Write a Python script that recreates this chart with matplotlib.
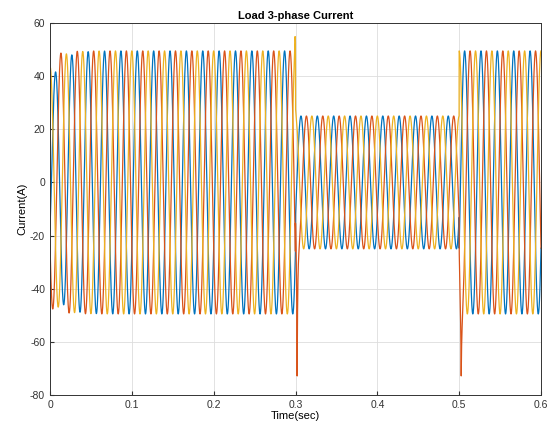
import numpy as np
import matplotlib
matplotlib.use("Agg")
from matplotlib import pyplot as plt

plt.rcParams['font.family'] = ['Liberation Sans', 'DejaVu Sans']
plt.rcParams['axes.unicode_minus'] = False

# Operating data
freq = 50.0                                  # Hz
seg_start = [0.0, 0.3, 0.5]                  # s, load switching instants
seg_amp = [49.5, 25.0, 49.5]                 # A, peak current in each interval
phase_deg = [-30.0, -150.0, 90.0]            # phase of each line current at t=0
phase_names = ["Ia", "Ib", "Ic"]
phase_colors = ["#0072BD", "#D95319", "#EDB120"]
# start-up: fraction of amplitude missing at t=0 and its time constant
startup_dip = [0.28, 0.05, 0.12]
startup_tau = 0.012
# switching spikes: (time, phase index, extra current in A)
spikes = [(0.302, 1, -50.0), (0.2995, 2, 6.0), (0.5025, 1, -25.0)]
spike_tau = 0.0007
t_end = 0.6
dt = 1e-4

t = np.arange(0, t_end + dt, dt)
amp = np.zeros_like(t)
for k, t0 in enumerate(seg_start):
    amp[t >= t0] = seg_amp[k]

currents = []
for k in range(3):
    env = amp * (1 - startup_dip[k] * np.exp(-t / startup_tau))
    i = env * np.sin(2 * np.pi * freq * t + np.deg2rad(phase_deg[k]))
    for ts, idx, val in spikes:
        if idx == k:
            i = i + val * np.exp(-np.abs(t - ts) / spike_tau)
    currents.append(i)

fig = plt.figure(figsize=(5.58, 4.29), dpi=100)
ax = fig.add_axes([50 / 558, 1 - 395 / 429, 491 / 558, 372 / 429])

for k in range(3):
    ax.plot(t, currents[k], color=phase_colors[k], linewidth=0.9,
            label=phase_names[k])

ax.set_xlim(0, 0.6)
ax.set_ylim(-80, 60)
ax.set_xticks(np.arange(0, 0.61, 0.1))
ax.set_xticklabels(["0", "0.1", "0.2", "0.3", "0.4", "0.5", "0.6"])
ax.set_yticks(np.arange(-80, 61, 20))
ax.tick_params(labelsize=7.5, direction='in', length=3, colors='#333333')
ax.grid(True, color='#dddddd', linewidth=0.6)
ax.set_axisbelow(True)
for s in ax.spines.values():
    s.set_color('#333333')
    s.set_linewidth(0.7)

ax.set_title("Load 3-phase Current", fontsize=8, fontweight='bold', pad=3)
ax.set_xlabel("Time(sec)", fontsize=8, labelpad=1)
ax.set_ylabel("Current(A)", fontsize=8, labelpad=2)

fig.savefig("out.png", dpi=100)
